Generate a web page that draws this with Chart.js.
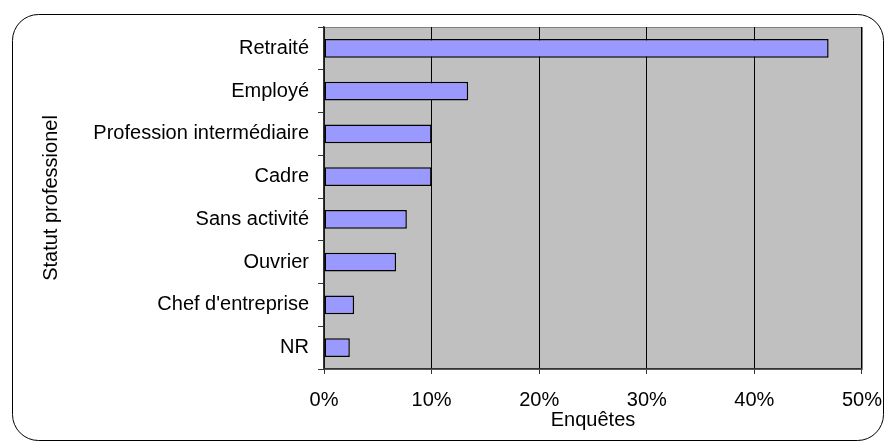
<!DOCTYPE html>
<html>
<head>
<meta charset="utf-8">
<script src="https://cdn.jsdelivr.net/npm/chart.js@4"></script>
<style>
  html, body { margin: 0; padding: 0; background: #fff; }
  #wrap { width: 896px; height: 442px; }
</style>
</head>
<body>
<div id="wrap"><canvas id="chart" width="896" height="442"></canvas></div>
<script>
// --- Data ---
const categories = ["Retraité", "Employé", "Profession intermédiaire", "Cadre", "Sans activité", "Ouvrier", "Chef d'entreprise", "NR"];
const shares = [46.9, 13.4, 10.0, 10.0, 7.7, 6.7, 2.8, 2.4];
const xTicks = [0, 10, 20, 30, 40, 50];

// plot background + rounded outer frame
const framePlugin = {
  id: "frame",
  beforeDraw(chart) {
    const { ctx, chartArea: a } = chart;
    ctx.save();
    ctx.fillStyle = "#c0c0c0";
    ctx.fillRect(a.left, a.top, a.right - a.left, a.bottom - a.top);
    ctx.strokeStyle = "#808080";
    ctx.lineWidth = 1;
    ctx.strokeRect(a.left + 0.5, a.top + 0.5, a.right - a.left, a.bottom - a.top);
    ctx.restore();
  },
  afterDraw(chart) {
    const ctx = chart.ctx;
    ctx.save();
    ctx.strokeStyle = "#000";
    ctx.lineWidth = 1;
    ctx.beginPath();
    ctx.roundRect(12.5, 14.5, 871, 426, 26);
    ctx.stroke();
    ctx.restore();
  }
};

const font = { family: "'Liberation Sans', Arial, sans-serif", size: 20 };

new Chart(document.getElementById("chart"), {
  type: "bar",
  data: {
    labels: categories,
    datasets: [{
      data: shares,
      backgroundColor: "#9999ff",
      borderColor: "#000",
      borderWidth: 1.5,
      borderSkipped: false,
      barPercentage: 0.44,
      categoryPercentage: 1
    }]
  },
  options: {
    indexAxis: "y",
    responsive: false,
    animation: false,
    layout: { padding: { left: 0, right: 30, top: 27, bottom: 6 } },
    plugins: { legend: { display: false }, tooltip: { enabled: false } },
    scales: {
      x: {
        min: 0, max: 50,
        afterBuildTicks: s => { s.ticks = xTicks.map(v => ({ value: v })); },
        afterFit: s => { s.height = 442 - 369 - 6; },
        grid: { color: "#000", lineWidth: 1, tickLength: 5, tickColor: "#333", drawOnChartArea: true },
        border: { color: "#333", width: 1.5 },
        ticks: { color: "#000", font: font, padding: 14, callback: v => v + "%" },
        title: { display: true, text: "Enquêtes", color: "#000", font: font, padding: { top: 0, bottom: 4 } }
      },
      y: {
        afterFit: s => { s.width = 324; },
        grid: { offset: true, drawOnChartArea: false, tickLength: 6, tickColor: "#333" },
        border: { color: "#333", width: 1.5 },
        ticks: { color: "#000", font: font, padding: 9 },
        title: { display: true, text: "Statut professionel", color: "#000", font: font, padding: { top: 39, bottom: 0 } }
      }
    }
  },
  plugins: [framePlugin]
});
</script>
</body>
</html>
